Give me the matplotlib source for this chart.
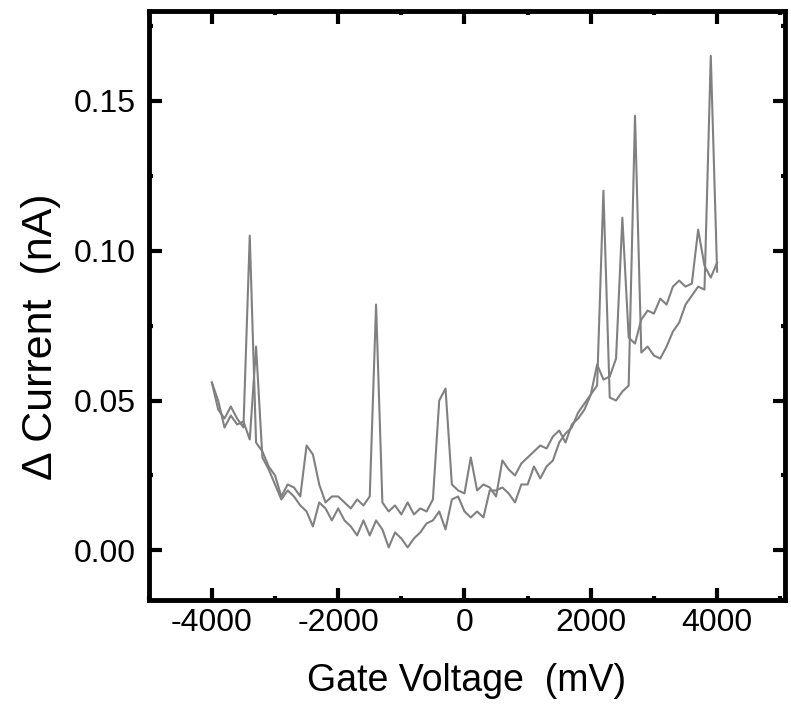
import matplotlib
matplotlib.use('Agg')
import matplotlib.pyplot as plt
from matplotlib.ticker import MultipleLocator, FormatStrFormatter

plt.rcParams['font.family'] = ['Liberation Sans', 'DejaVu Sans']
plt.rcParams['axes.unicode_minus'] = False

# gate voltage sweep (mV), 100 mV steps
gate_mv = list(range(-4000, 4001, 100))

# first sweep
sweep_a = [
    0.056, 0.047, 0.044, 0.048, 0.044, 0.041, 0.105, 0.036, 0.033, 0.028, 0.025,   # -4000..-3000
    0.018, 0.022, 0.021, 0.018, 0.035, 0.032, 0.022, 0.016, 0.018, 0.018,          # -2900..-2000
    0.016, 0.014, 0.017, 0.015, 0.018, 0.082, 0.016, 0.013, 0.015, 0.012,          # -1900..-1000
    0.016, 0.012, 0.014, 0.013, 0.017, 0.050, 0.054, 0.022, 0.020, 0.019,          # -900..0
    0.031, 0.020, 0.022, 0.021, 0.018, 0.030, 0.027, 0.025, 0.029, 0.031,          # 100..1000
    0.033, 0.035, 0.034, 0.038, 0.040, 0.036, 0.042, 0.044, 0.047, 0.052,          # 1100..2000
    0.055, 0.120, 0.051, 0.050, 0.053, 0.055, 0.145, 0.066, 0.068, 0.065,          # 2100..3000
    0.064, 0.068, 0.073, 0.076, 0.082, 0.085, 0.088, 0.087, 0.165, 0.093,          # 3100..4000
]

# second sweep
sweep_b = [
    0.056, 0.050, 0.041, 0.045, 0.042, 0.043, 0.037, 0.068, 0.031, 0.027, 0.022,
    0.017, 0.020, 0.018, 0.015, 0.013, 0.008, 0.016, 0.014, 0.010, 0.014,
    0.010, 0.008, 0.005, 0.010, 0.005, 0.010, 0.007, 0.001, 0.006, 0.004,
    0.001, 0.004, 0.006, 0.009, 0.010, 0.013, 0.007, 0.017, 0.018, 0.013,
    0.011, 0.013, 0.011, 0.020, 0.020, 0.021, 0.019, 0.016, 0.022, 0.022,
    0.028, 0.024, 0.028, 0.030, 0.036, 0.039, 0.041, 0.046, 0.049, 0.052,
    0.062, 0.057, 0.058, 0.064, 0.111, 0.071, 0.069, 0.077, 0.080, 0.079,
    0.084, 0.082, 0.088, 0.090, 0.088, 0.089, 0.107, 0.095, 0.091, 0.096,
]

fig = plt.figure(figsize=(7.91, 7.21), dpi=100)
ax = fig.add_axes([0.188, 0.168, 0.804, 0.817])

ax.plot(gate_mv, sweep_a, color='#808080', lw=1.5)
ax.plot(gate_mv, sweep_b, color='#808080', lw=1.5)

ax.set_xlim(-5000, 5070)
ax.set_ylim(-0.0165, 0.18)

ax.xaxis.set_major_locator(MultipleLocator(2000))
ax.xaxis.set_minor_locator(MultipleLocator(1000))
ax.yaxis.set_major_locator(MultipleLocator(0.05))
ax.yaxis.set_minor_locator(MultipleLocator(0.025))
ax.yaxis.set_major_formatter(FormatStrFormatter('%.2f'))

for s in ax.spines.values():
    s.set_linewidth(3.5)
ax.tick_params(which='both', direction='in', top=True, right=True, width=3)
ax.tick_params(which='major', length=9, labelsize=23)
ax.tick_params(axis='x', which='major', pad=6)
ax.tick_params(axis='y', which='major', pad=9)
ax.tick_params(which='minor', length=3)

ax.set_xlabel('Gate Voltage  (mV)', fontsize=27, labelpad=18)
ax.set_ylabel('\u0394 Current  (nA)', fontsize=31)
ax.yaxis.set_label_coords(-0.138, 0.446)

fig.savefig('out.png', dpi=100)
